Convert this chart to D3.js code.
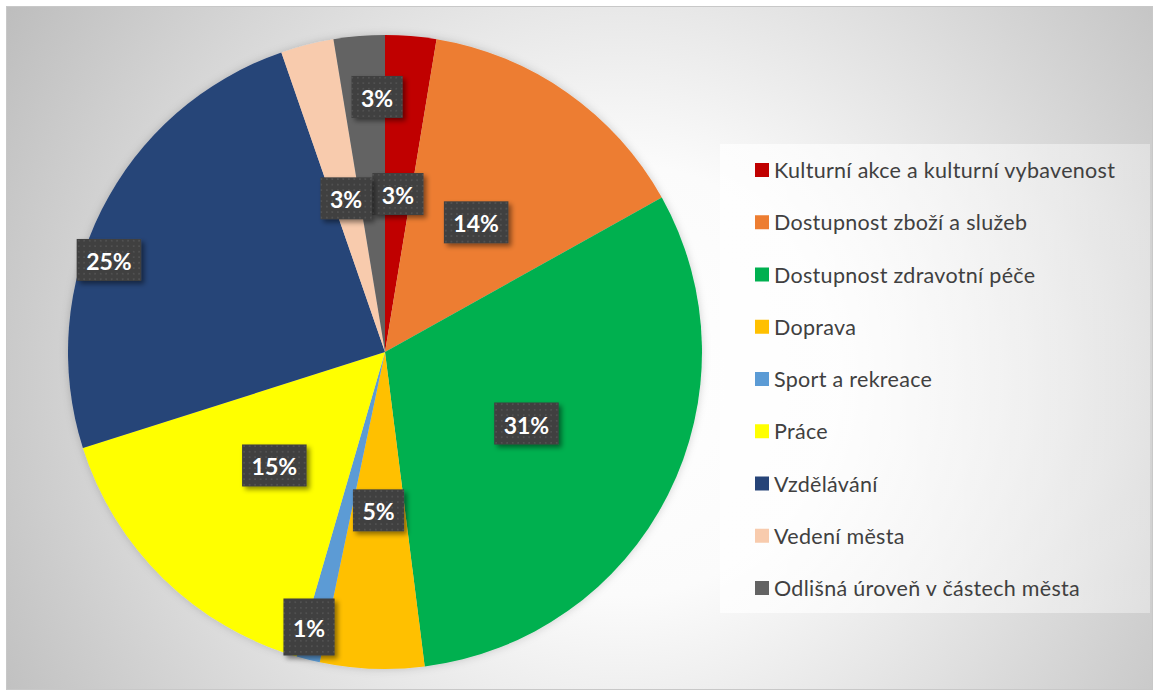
<!DOCTYPE html>
<html>
<head>
<meta charset="utf-8">
<script src="https://cdn.jsdelivr.net/npm/d3@7"></script>
<style>
  html, body { margin: 0; padding: 0; background: #ffffff; }
  svg { display: block; }
</style>
</head>
<body>
<svg id="chart" width="1159" height="695"></svg>
<script>
// ---------- data ----------
const categories = [
  "Kulturní akce a kulturní vybavenost",
  "Dostupnost zboží a služeb",
  "Dostupnost zdravotní péče",
  "Doprava",
  "Sport a rekreace",
  "Práce",
  "Vzdělávání",
  "Vedení města",
  "Odlišná úroveň v částech města"
];
const values = [2.6, 14.3, 31.1, 5.3, 1.2, 15.6, 24.6, 2.7, 2.6];
const labels = ["3%", "14%", "31%", "5%", "1%", "15%", "25%", "3%", "3%"];
const colors = ["#C00000", "#ED7D31", "#00B050", "#FFC000", "#5B9BD5",
                "#FFFF00", "#264478", "#F8CBAD", "#636363"];

// label placement tweaks (style, not data): radius factor & angle offset (deg)
const labelRadiusFactor = [0.5, 0.5, 0.5, 0.5, 0.9, 0.5, 0.918, 0.5, 0.805];
const labelAngleOffset  = [0, 0, 0, 0, 1.4, 0, -8.2, 0, 2.9];

// ---------- layout ----------
const W = 1159, H = 695;
const cx = 385, cy = 352, R = 317;
const svg = d3.select("#chart");
const defs = svg.append("defs");

// background gradient
const bg = defs.append("radialGradient")
  .attr("id", "bgGrad").attr("gradientUnits", "userSpaceOnUse")
  .attr("cx", 620).attr("cy", 380).attr("r", 720);
bg.append("stop").attr("offset", "0").attr("stop-color", "#ffffff");
bg.append("stop").attr("offset", "0.3").attr("stop-color", "#fbfbfb");
bg.append("stop").attr("offset", "1").attr("stop-color", "#bdbdbd");

// legend gradient (semi white)
const lg = defs.append("linearGradient").attr("id", "legGrad")
  .attr("x1", "0").attr("y1", "0").attr("x2", "1").attr("y2", "0");
lg.append("stop").attr("offset", "0").attr("stop-color", "#ffffff").attr("stop-opacity", 0.75);
lg.append("stop").attr("offset", "1").attr("stop-color", "#ffffff").attr("stop-opacity", 0.35);

// pie shadow
const pf = defs.append("filter").attr("id", "pieShadow")
  .attr("x", "-10%").attr("y", "-10%").attr("width", "120%").attr("height", "120%");
pf.append("feDropShadow").attr("dx", 0).attr("dy", 0).attr("stdDeviation", 4)
  .attr("flood-color", "#000").attr("flood-opacity", 0.18);

// label shadow
const lf = defs.append("filter").attr("id", "lblShadow")
  .attr("x", "-30%").attr("y", "-30%").attr("width", "160%").attr("height", "160%");
lf.append("feDropShadow").attr("dx", 3).attr("dy", 3).attr("stdDeviation", 2.5)
  .attr("flood-color", "#000").attr("flood-opacity", 0.45);

// dotted pattern for label boxes
const pat = defs.append("pattern").attr("id", "dots")
  .attr("patternUnits", "userSpaceOnUse").attr("width", 5.5).attr("height", 5.5);
pat.append("rect").attr("width", 5.5).attr("height", 5.5).attr("fill", "#3f3f3f");
pat.append("circle").attr("cx", 2.75).attr("cy", 2.75).attr("r", 0.9).attr("fill", "#575757");

// chart area
svg.append("rect").attr("x", 6.5).attr("y", 6.5).attr("width", 1146).attr("height", 683)
  .attr("fill", "url(#bgGrad)").attr("stroke", "#c8c8c8").attr("stroke-width", 1);

// ---------- pie ----------
const data = categories.map((c, i) => ({ name: c, value: values[i], label: labels[i], color: colors[i], i }));
const pie = d3.pie().value(d => d.value).sort(null).startAngle(0).endAngle(2 * Math.PI);
const arcs = pie(data);
const arc = d3.arc().innerRadius(0).outerRadius(R);

const g = svg.append("g").attr("transform", `translate(${cx},${cy})`);
g.append("g").attr("filter", "url(#pieShadow)")
  .selectAll("path").data(arcs).join("path")
  .attr("d", arc)
  .attr("fill", d => d.data.color);

// labels
const lblG = g.append("g");
arcs.forEach(a => {
  const i = a.data.i;
  const mid = (a.startAngle + a.endAngle) / 2 + labelAngleOffset[i] * Math.PI / 180;
  const rr = R * labelRadiusFactor[i];
  const la = d3.arc().innerRadius(rr).outerRadius(rr);
  const [x, y] = la.centroid({ startAngle: mid, endAngle: mid });
  const grp = lblG.append("g").attr("transform", `translate(${x},${y})`);
  const t = grp.append("text")
    .attr("text-anchor", "middle").attr("dominant-baseline", "central")
    .attr("font-family", "Lato, 'Open Sans', sans-serif").attr("font-weight", 700)
    .attr("font-size", 23).attr("fill", "#ffffff")
    .attr("y", 1)
    .text(a.data.label);
  const tw = t.node().getComputedTextLength();
  const bw = tw + 19, bh = (i === 4 ? 57 : 42);
  grp.insert("rect", "text")
    .attr("x", -bw / 2).attr("y", -bh / 2).attr("width", bw).attr("height", bh)
    .attr("fill", "url(#dots)").attr("filter", "url(#lblShadow)");
});

// ---------- legend ----------
const legX = 720, legY = 144, legW = 430, legH = 469;
svg.append("rect").attr("x", legX).attr("y", legY).attr("width", legW).attr("height", legH)
  .attr("fill", "url(#legGrad)");

const legend = svg.append("g");
const rowY = d3.scalePoint().domain(d3.range(categories.length)).range([170, 588]);
const items = legend.selectAll("g").data(data).join("g")
  .attr("transform", d => `translate(755,${rowY(d.i)})`);
items.append("rect").attr("x", 0).attr("y", -7).attr("width", 14).attr("height", 14)
  .attr("fill", d => d.color);
items.append("text").attr("x", 19).attr("y", 0)
  .attr("dominant-baseline", "central")
  .attr("font-family", "Lato, 'Open Sans', sans-serif").attr("font-size", 21.5)
  .attr("letter-spacing", 0.3)
  .attr("fill", "#404040")
  .text(d => d.name);
</script>
</body>
</html>
